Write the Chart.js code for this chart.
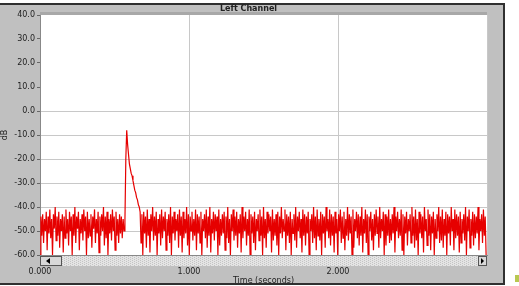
<!DOCTYPE html>
<html>
<head>
<meta charset="utf-8">
<script src="https://cdn.jsdelivr.net/npm/chart.js@4/dist/chart.umd.min.js"></script>
<style>
  body { margin: 0; background: #fff; }
  #frame {
    position: absolute; left: 0; top: 3px; width: 503px; height: 278px;
    background: #c0c0c0;
    border-top: 2px solid #303030; border-right: 2px solid #303030; border-bottom: 2px solid #303030;
  }
  #wrap { position: absolute; left: 0; top: 0; width: 519px; height: 286px; }
  #mark { position: absolute; left: 515px; top: 275px; width: 4px; height: 7px; background: #b8c850; }
</style>
</head>
<body>
<div id="frame"></div>
<div id="mark"></div>
<div id="wrap"><canvas id="myChart" width="519" height="286"></canvas></div>
<script>
const title = 'Left Channel';
const xTitle = 'Time (seconds)';
const yTitle = 'dB';

// time between two samples (seconds)
const DT = 0.006;

const xTicks = [0, 1, 2, 3];
const yTicks = [40, 30, 20, 10, 0, -10, -20, -30, -40, -50, -60];

// level in dB before the click
const levelsBefore = [
  -60, -44, -52, -43, -55, -45, -50, -42, -58, -44,
  -51, -41, -53, -45, -60, -43, -49, -40, -54, -44,
  -52, -42, -57, -45, -50, -43, -59, -44, -53, -41,
  -51, -45, -56, -42, -50, -44, -60, -43, -52, -40,
  -55, -44, -49, -42, -58, -45, -51, -43, -54, -41,
  -50, -44, -60, -42, -53, -45, -52, -43, -57, -44,
  -49, -41, -55, -45, -51, -42, -59, -44, -52, -43,
  -50, -40, -56, -44, -53, -42, -60, -45, -51, -43,
  -54, -41, -50, -44, -58, -42, -52, -45, -55, -43,
  -51, -44, -53, -45, -50
];

// the click and its decay
const levelsClick = [
  -46, -20, -8, -14, -18, -22, -24, -26, -27, -29,
  -31, -33, -34, -36, -37, -39, -40, -42
];

// level in dB after the click
const levelsAfter = [
  -55, -43, -60, -42, -51, -44, -57, -41, -52, -45,
  -59, -43, -50, -40, -54, -44, -52, -42, -60, -45,
  -51, -43, -56, -41, -53, -44, -50, -42, -58, -45,
  -52, -43, -55, -40, -60, -44, -51, -42, -54, -45,
  -50, -43, -57, -41, -52, -44, -59, -42, -53, -45,
  -51, -40, -56, -43, -60, -44, -50, -42, -54, -45,
  -52, -41, -58, -43, -51, -44, -55, -42, -60, -45,
  -50, -43, -53, -41, -57, -44, -52, -40, -59, -45,
  -51, -42, -54, -43, -50, -44, -60, -41, -56, -45,
  -52, -43, -51, -42, -58, -44, -53, -40, -55, -45,
  -60, -43, -50, -41, -54, -44, -52, -42, -57, -45,
  -51, -43, -59, -40, -53, -44, -50, -42, -56, -45,
  -52, -41, -60, -43, -51, -44, -55, -42, -58, -45,
  -50, -43, -54, -41, -52, -44, -60, -40, -53, -45,
  -57, -42, -51, -43, -50, -44, -59, -41, -54, -45,
  -52, -43, -56, -42, -60, -44, -51, -40, -53, -45,
  -50, -41, -58, -43, -52, -44, -55, -42, -60, -45,
  -51, -43, -54, -40, -57, -44, -50, -42, -53, -45,
  -59, -41, -52, -43, -56, -44, -51, -42, -60, -45,
  -50, -43, -55, -40, -53, -44, -58, -41, -52, -45,
  -54, -42, -60, -43, -51, -44, -57, -40, -50, -45,
  -53, -41, -56, -43, -52, -44, -59, -42, -51, -45,
  -60, -43, -50, -41, -55, -44, -53, -42, -58, -45,
  -52, -40, -54, -43, -51, -44, -60, -41, -57, -45,
  -50, -42, -53, -43, -56, -44, -52, -40, -59, -45,
  -51, -41, -55, -43, -60, -44, -50, -42, -54, -45,
  -58, -43, -52, -41, -51, -44, -57, -40, -53, -45,
  -50, -42, -60, -43, -56, -44, -52, -41, -55, -45,
  -54, -43, -51, -40, -59, -44, -50, -42, -53, -45,
  -52, -41, -58, -43, -60, -44, -51, -42, -56, -45,
  -50, -43, -55, -40, -52, -44, -57, -41, -54, -45,
  -60, -42, -51, -43, -53, -44, -59, -40, -50, -45,
  -56, -41, -52, -43, -58, -44, -51, -42, -60, -45,
  -53, -43, -50, -40, -55, -44, -54, -41, -57, -45,
  -52, -42, -60, -43, -51, -44, -56, -40, -50, -45,
  -58, -41, -53, -43, -52, -44, -59, -42, -55, -45,
  -51, -43, -54, -40, -60, -44, -50, -41, -57, -45,
  -52, -42, -56, -43, -53, -44, -51, -40, -58, -45,
  -50, -43, -55, -41, -52, -44, -60
];

const levels = levelsBefore.concat(levelsClick, levelsAfter);
const points = levels.map((v, i) => ({ x: i * DT, y: v }));

// white plot, gray border, title bar and the scroll bar under the trace
const panelPlugin = {
  id: 'panel',
  beforeDraw(chart) {
    const { ctx, chartArea: a } = chart;
    ctx.save();
    ctx.fillStyle = '#fff';
    ctx.fillRect(a.left, a.top, a.right - a.left, a.bottom - a.top);
    ctx.fillStyle = '#a8a8a8';
    ctx.fillRect(a.left, a.top - 3, a.right - a.left, 3);
    ctx.fillStyle = '#222';
    ctx.font = 'bold 8px "DejaVu Sans", sans-serif';
    ctx.textAlign = 'center';
    ctx.textBaseline = 'middle';
    ctx.fillText(title, (a.left + a.right) / 2 - 15, a.top - 6);
    ctx.restore();
  },
  afterDraw(chart) {
    const { ctx, chartArea: a } = chart;
    const top = a.bottom + 1, h = 10;
    ctx.save();
    ctx.fillStyle = '#e4e4e4';
    ctx.fillRect(a.left, top, a.right - a.left, h);
    ctx.fillStyle = '#c4c4c4';
    for (let x = a.left; x < a.right; x += 2) {
      for (let y = top + ((x - a.left) / 2) % 2; y < top + h; y += 2) ctx.fillRect(x, y, 1, 1);
    }
    // left button
    ctx.fillStyle = '#d8d8d8';
    ctx.fillRect(a.left, top, 21, h);
    ctx.strokeStyle = '#555';
    ctx.strokeRect(a.left + 0.5, top + 0.5, 21, h - 1);
    ctx.fillStyle = '#000';
    ctx.beginPath();
    ctx.moveTo(a.left + 6, top + 5); ctx.lineTo(a.left + 10, top + 2); ctx.lineTo(a.left + 10, top + 8);
    ctx.fill();
    // right button
    ctx.fillStyle = '#d8d8d8';
    ctx.fillRect(a.right - 9, top, 9, h);
    ctx.strokeRect(a.right - 8.5, top + 0.5, 8, h - 1);
    ctx.fillStyle = '#000';
    ctx.beginPath();
    ctx.moveTo(a.right - 3, top + 5); ctx.lineTo(a.right - 6, top + 2); ctx.lineTo(a.right - 6, top + 8);
    ctx.fill();
    ctx.restore();
  }
};

const ctx = document.getElementById('myChart').getContext('2d');
const tickFont = { family: '"DejaVu Sans", sans-serif', size: 8 };

const myChart = new Chart(ctx, {
  type: 'line',
  data: {
    datasets: [{
      data: points,
      borderColor: 'rgb(230, 0, 0)',
      borderWidth: 1.2,
      pointRadius: 0,
      tension: 0,
      fill: false
    }]
  },
  options: {
    responsive: false,
    animation: false,
    layout: { padding: { left: 0, right: 32, top: 15, bottom: 0 } },
    plugins: { legend: { display: false }, tooltip: { enabled: false } },
    scales: {
      x: {
        type: 'linear',
        min: 0,
        max: 3,
        afterBuildTicks: s => { s.ticks = xTicks.map(v => ({ value: v })); },
        afterFit: s => { s.height = 31; },
        border: { display: true, color: '#888' },
        grid: { color: '#c8c8c8', drawTicks: false },
        ticks: {
          padding: 12,
          maxRotation: 0,
          color: '#222',
          font: tickFont,
          callback: v => (v < 3 ? v.toFixed(3) : '')
        },
        title: { display: true, text: xTitle, color: '#222', font: tickFont, padding: 0 }
      },
      y: {
        min: -60,
        max: 40,
        afterBuildTicks: s => { s.ticks = yTicks.map(v => ({ value: v })); },
        afterFit: s => { s.width = 40; },
        border: { display: true, color: '#888' },
        grid: {
          color: c => (c.tick && c.tick.value <= 0 && c.tick.value > -60 ? '#c8c8c8' : 'rgba(0,0,0,0)'),
          tickColor: '#666',
          tickLength: 3
        },
        ticks: {
          padding: 2,
          color: '#222',
          font: tickFont,
          callback: v => v.toFixed(1)
        },
        title: { display: true, text: yTitle, color: '#222', font: tickFont, padding: 0 }
      }
    }
  },
  plugins: [panelPlugin]
});
</script>
</body>
</html>
